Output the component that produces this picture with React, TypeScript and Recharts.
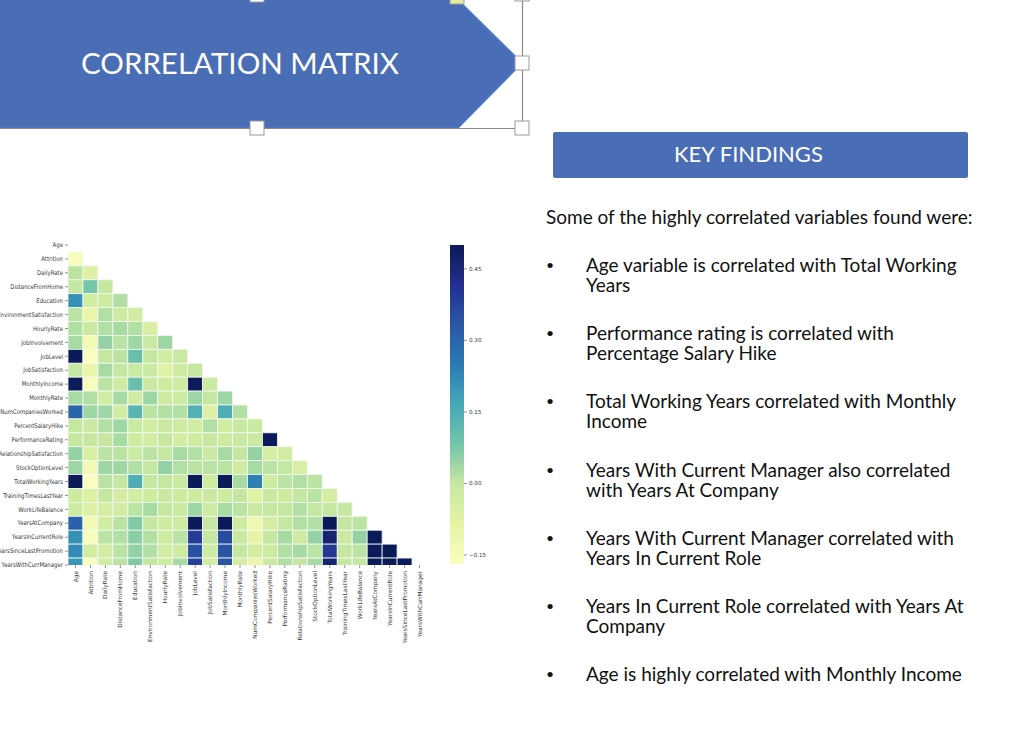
import { Bar, BarChart, Scatter, ScatterChart, XAxis, YAxis } from 'recharts'

const labels = [
  'Age', 'Attrition', 'DailyRate', 'DistanceFromHome', 'Education', 'EnvironmentSatisfaction',
  'HourlyRate', 'JobInvolvement', 'JobLevel', 'JobSatisfaction', 'MonthlyIncome', 'MonthlyRate',
  'NumCompaniesWorked', 'PercentSalaryHike', 'PerformanceRating', 'RelationshipSatisfaction',
  'StockOptionLevel', 'TotalWorkingYears', 'TrainingTimesLastYear', 'WorkLifeBalance',
  'YearsAtCompany', 'YearsInCurrentRole', 'YearsSinceLastPromotion', 'YearsWithCurrManager',
]

// lower triangle only, one list per row, the first row (Age) is masked
const attrition = [-0.16]
const dailyRate = [0.01, -0.06]
const distanceFromHome = [0.0, 0.08, 0.0]
const education = [0.21, -0.03, -0.02, 0.02]
const environmentSatisfaction = [0.01, -0.1, 0.02, -0.02, -0.03]
const hourlyRate = [0.02, -0.01, 0.02, 0.03, 0.02, -0.05]
const jobInvolvement = [0.03, -0.13, 0.05, 0.01, 0.04, -0.01, 0.04]
const jobLevel = [0.51, -0.17, 0.0, 0.01, 0.1, 0.0, -0.03, -0.01]
const jobSatisfaction = [0.0, -0.1, 0.03, 0.0, -0.01, -0.01, -0.07, -0.02, 0.0]
const monthlyIncome = [0.5, -0.16, 0.01, -0.02, 0.1, -0.01, -0.02, -0.02, 0.95, -0.01]
const monthlyRate = [0.03, 0.02, -0.03, 0.03, -0.03, 0.04, -0.02, -0.02, 0.04, 0.0, 0.04]
const numCompaniesWorked = [0.3, 0.04, 0.04, -0.03, 0.13, 0.01, 0.02, 0.02, 0.14, -0.06, 0.15, 0.02]
const percentSalaryHike = [0.0, -0.01, 0.02, 0.04, -0.01, -0.03, -0.01, -0.02, -0.03, 0.02, -0.03, -0.01, -0.01]
const performanceRating = [0.0, 0.0, 0.0, 0.03, -0.02, -0.03, 0.0, -0.03, -0.02, 0.0, -0.02, -0.01, -0.01, 0.77]
const relationshipSatisfaction = [0.05, -0.05, 0.01, 0.01, -0.01, 0.01, 0.0, 0.03, 0.02, -0.01, 0.03, 0.0, 0.05, -0.04, -0.03]
const stockOptionLevel = [0.04, -0.14, 0.04, 0.04, 0.02, 0.0, 0.05, 0.02, 0.01, 0.01, 0.01, -0.03, 0.03, 0.01, 0.0, -0.05]
const totalWorkingYears = [0.68, -0.17, 0.01, 0.0, 0.15, 0.0, 0.0, -0.01, 0.78, -0.02, 0.77, 0.03, 0.24, -0.02, 0.01, 0.02, 0.01]
const trainingTimesLastYear = [-0.02, -0.06, 0.0, -0.04, -0.03, -0.02, -0.01, -0.02, -0.02, -0.01, -0.02, 0.0, -0.07, -0.01, -0.02, 0.0, 0.01, -0.04]
const workLifeBalance = [-0.02, -0.06, -0.04, -0.03, 0.01, 0.03, 0.0, -0.01, 0.04, -0.02, 0.03, 0.01, -0.01, 0.0, 0.0, 0.02, 0.0, 0.0, 0.0]
const yearsAtCompany = [0.31, -0.13, -0.03, 0.01, 0.07, 0.0, -0.02, -0.02, 0.53, 0.0, 0.51, -0.02, -0.12, -0.04, 0.0, 0.02, 0.02, 0.63, 0.0, 0.01]
const yearsInCurrentRole = [0.21, -0.16, 0.01, 0.02, 0.06, 0.02, -0.02, 0.01, 0.39, 0.0, 0.36, -0.01, -0.09, 0.0, 0.03, -0.02, 0.05, 0.46, -0.01, 0.05, 0.76]
const yearsSinceLastPromotion = [0.22, -0.03, -0.03, 0.01, 0.05, 0.02, -0.03, -0.02, 0.35, -0.02, 0.34, 0.0, -0.04, -0.02, 0.02, 0.03, 0.01, 0.4, 0.0, 0.01, 0.62, 0.55]
const yearsWithCurrManager = [0.2, -0.16, -0.03, 0.01, 0.07, 0.0, -0.02, 0.03, 0.38, -0.03, 0.34, -0.04, -0.11, -0.01, 0.02, 0.0, 0.03, 0.46, 0.0, 0.0, 0.77, 0.71, 0.51]

const rows = [
  [], attrition, dailyRate, distanceFromHome, education, environmentSatisfaction, hourlyRate,
  jobInvolvement, jobLevel, jobSatisfaction, monthlyIncome, monthlyRate, numCompaniesWorked,
  percentSalaryHike, performanceRating, relationshipSatisfaction, stockOptionLevel, totalWorkingYears,
  trainingTimesLastYear, workLifeBalance, yearsAtCompany, yearsInCurrentRole, yearsSinceLastPromotion,
  yearsWithCurrManager,
]

const colorbarTicks = [-0.15, 0, 0.15, 0.3, 0.45]
const colorbarData = [{ name: 'r', range: [-0.169, 0.5] }]

// YlGnBu as it looks in the screenshot, a bit greener than the stock map
const palette = ['#fafdc0', '#e6f4a4', '#c7e8a2', '#74c5a8', '#46a8b8', '#2a7ab5', '#2a58a6', '#222f8e', '#0b1a58']
const V_MIN = -0.169
const V_MAX = 0.5

const findings = [
  ['Age variable is correlated with Total Working', 'Years'],
  ['Performance rating is correlated with', 'Percentage Salary Hike'],
  ['Total Working Years correlated with Monthly', 'Income'],
  ['Years With Current Manager also correlated', 'with Years At Company'],
  ['Years With Current Manager correlated with', 'Years In Current Role'],
  ['Years In Current Role correlated with Years At', 'Company'],
  ['Age is highly correlated with Monthly Income'],
]
const findingTops = [265, 333, 401, 470, 538, 606, 674]

const handles = [
  { x: 257, y: -5, fill: '#fff' },
  { x: 457, y: -3, fill: '#e8ee9a' },
  { x: 522, y: -6, fill: '#fff' },
  { x: 522, y: 63, fill: '#fff' },
  { x: 257, y: 128, fill: '#fff' },
  { x: 522, y: 128, fill: '#fff' },
]

const cells = rows.flatMap((row, y) => row.map((value, x) => ({ x, y, value })))
const indexTicks = labels.map((_, i) => i)

const CELL_W = 359 / 24
const CELL_H = 320 / 23
const FONT = 'Lato, sans-serif'
const TICK_FONT = '"DejaVu Sans", sans-serif'

function hexToRgb(hex: string) {
  return [1, 3, 5].map((i) => parseInt(hex.slice(i, i + 2), 16))
}

function valueColor(value: number) {
  const t = Math.min(1, Math.max(0, (value - V_MIN) / (V_MAX - V_MIN))) * (palette.length - 1)
  const lo = Math.floor(t)
  const hi = Math.min(lo + 1, palette.length - 1)
  const a = hexToRgb(palette[lo])
  const b = hexToRgb(palette[hi])
  const c = a.map((v, i) => Math.round(v + (b[i] - v) * (t - lo)))
  return `rgb(${c[0]},${c[1]},${c[2]})`
}

function HeatCell(props: any) {
  const { cx, cy, payload } = props
  return (
    <rect
      x={cx - CELL_W / 2}
      y={cy - CELL_H / 2}
      width={CELL_W}
      height={CELL_H}
      fill={valueColor(payload.value)}
      stroke="#f4f8f0"
      strokeWidth={0.8}
    />
  )
}

function RotatedTick(props: any) {
  const { x, y, payload } = props
  return (
    <text
      transform={`rotate(-90 ${x} ${y + 1})`}
      x={x}
      y={y + 1}
      dy={2.1}
      textAnchor="end"
      fontSize={5.8}
      fontFamily={TICK_FONT}
      fill="#3a3a3a"
    >
      {labels[payload.value]}
    </text>
  )
}

// the pasted picture is squeezed sideways, so the row labels are narrower than they are tall
function RowTick(props: any) {
  const { x, y, payload } = props
  return (
    <text
      transform={`translate(${x} ${y}) scale(0.84 1)`}
      dy={2.2}
      textAnchor="end"
      fontSize={6.4}
      fontFamily={TICK_FONT}
      fill="#3a3a3a"
    >
      {labels[payload.value]}
    </text>
  )
}

function Line({ text, left, top, size = 19 }: { text: string; left: number; top: number; size?: number }) {
  return (
    <div
      style={{
        position: 'absolute',
        left,
        top: top - 10,
        height: 20,
        lineHeight: '20px',
        fontFamily: FONT,
        fontSize: size,
        color: '#111',
        whiteSpace: 'nowrap',
      }}
    >
      {text}
    </div>
  )
}

export default function App() {
  return (
    <div style={{ position: 'absolute', left: 0, top: 0, width: 1024, height: 752, background: '#fff', overflow: 'hidden' }}>
      <svg width={1024} height={140} style={{ position: 'absolute', left: 0, top: 0 }}>
        <polygon points="-4,-4 454,-4 522,63 458,128 -4,128" fill="#4a6eb5" stroke="#4d78cc" strokeWidth={1.6} />
        <line x1={0} y1={128.5} x2={522} y2={128.5} stroke="#8a8a8a" strokeWidth={1.2} />
        <line x1={522.5} y1={0} x2={522.5} y2={128} stroke="#8a8a8a" strokeWidth={1.2} />
        {handles.map((h) => (
          <rect key={`${h.x}-${h.y}`} x={h.x - 7} y={h.y - 7} width={14} height={14} fill={h.fill} stroke="#9a9a9a" />
        ))}
        <text x={81} y={74} fontFamily={FONT} fontSize={29.5} fill="#fff">CORRELATION MATRIX</text>
      </svg>

      <div
        style={{
          position: 'absolute',
          left: 553,
          top: 132,
          width: 415,
          height: 46,
          background: '#4a6eb5',
          borderRadius: 2,
        }}
      />
      <div
        style={{
          position: 'absolute',
          left: 674,
          top: 132,
          height: 44,
          lineHeight: '44px',
          color: '#fff',
          fontFamily: FONT,
          fontSize: 22,
          whiteSpace: 'nowrap',
        }}
      >
        KEY FINDINGS
      </div>

      <Line text="Some of the highly correlated variables found were:" left={546} top={217} />
      {findings.map((lines, i) => (
        <div key={lines[0]}>
          <Line text="•" left={546} top={findingTops[i]} size={14} />
          {lines.map((line, k) => (
            <Line key={line} text={line} left={586} top={findingTops[i] + k * 19.5} />
          ))}
        </div>
      ))}

      <div style={{ position: 'absolute', left: 0, top: 235 }}>
        <ScatterChart width={440} height={425} margin={{ top: 10, right: 13, bottom: 0, left: 0 }}>
          <XAxis
            type="number"
            dataKey="x"
            domain={[-0.5, 23.5]}
            ticks={indexTicks}
            interval={0}
            allowDataOverflow
            axisLine={false}
            tickLine={{ stroke: '#444', strokeWidth: 0.6 }}
            tickSize={3}
            height={95}
            tick={<RotatedTick />}
          />
          <YAxis
            type="number"
            dataKey="y"
            domain={[0, 23]}
            reversed
            ticks={indexTicks}
            interval={0}
            allowDataOverflow
            axisLine={false}
            tickLine={{ stroke: '#444', strokeWidth: 0.6 }}
            tickSize={3}
            width={68}
            tick={<RowTick />}
          />
          <Scatter data={cells} shape={<HeatCell />} isAnimationActive={false} />
        </ScatterChart>
      </div>

      <div style={{ position: 'absolute', left: 440, top: 235 }}>
        <BarChart width={60} height={339} data={colorbarData} margin={{ top: 10, right: 0, bottom: 10, left: 10 }} barCategoryGap={0}>
          <defs>
            <linearGradient id="colorbar" x1="0" y1="1" x2="0" y2="0">
              {palette.map((c, i) => (
                <stop key={c} offset={i / (palette.length - 1)} stopColor={c} />
              ))}
            </linearGradient>
          </defs>
          <XAxis dataKey="name" hide />
          <YAxis
            orientation="right"
            domain={[V_MIN, V_MAX]}
            ticks={colorbarTicks}
            interval={0}
            allowDataOverflow
            axisLine={false}
            tickLine={{ stroke: '#444', strokeWidth: 0.6 }}
            tickSize={3}
            width={36}
            tickFormatter={(val) => (val < 0 ? '\u2212' : '') + Math.abs(val).toFixed(2)}
            tick={{ fontSize: 5.6, fontFamily: TICK_FONT, fill: '#3a3a3a' }}
          />
          <Bar dataKey="range" fill="url(#colorbar)" isAnimationActive={false} />
        </BarChart>
      </div>
    </div>
  )
}
